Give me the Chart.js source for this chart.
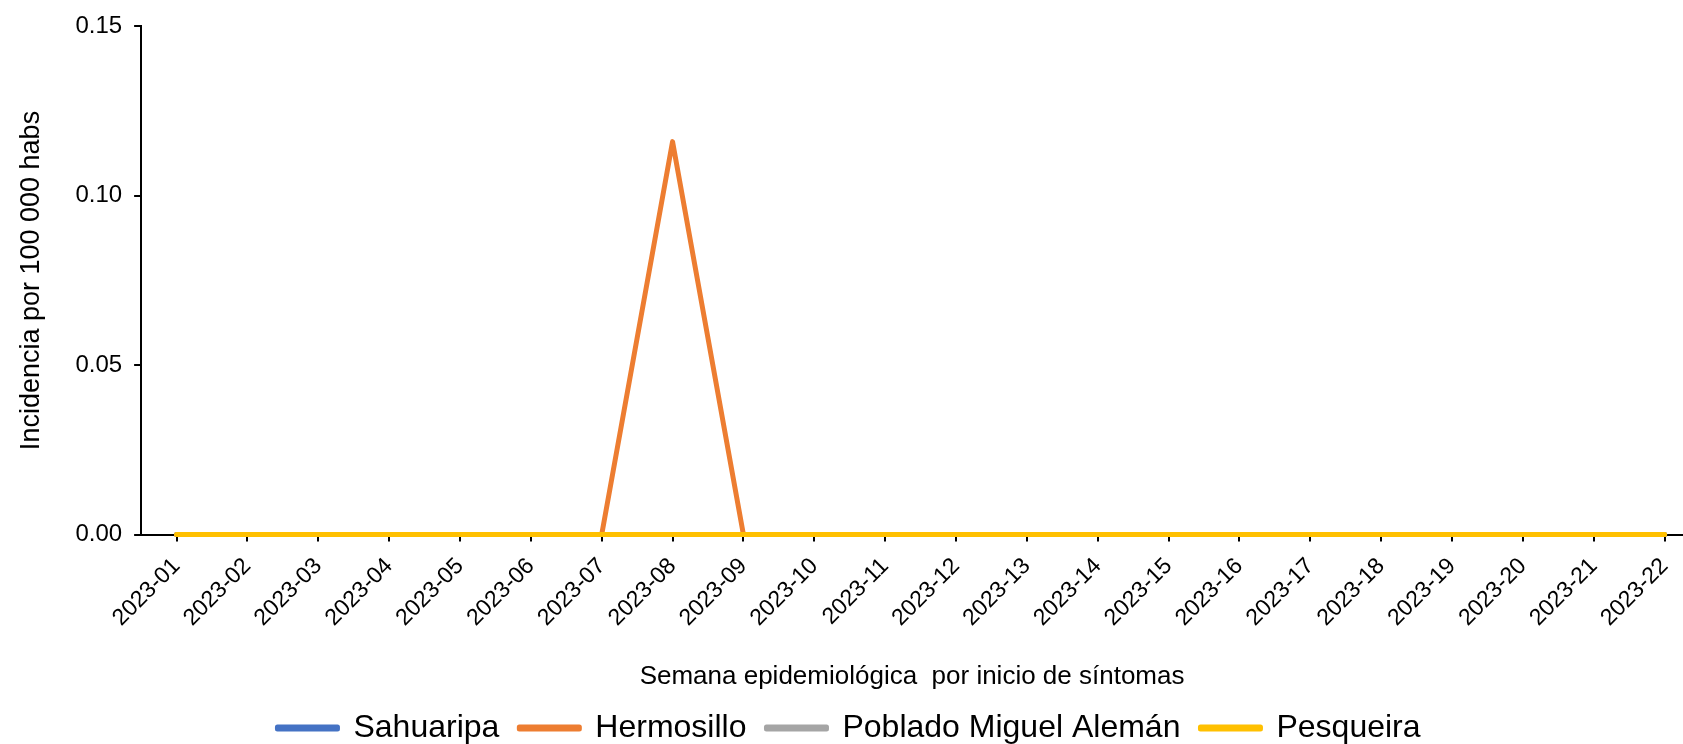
<!DOCTYPE html>
<html>
<head>
<meta charset="utf-8">
<script src="https://cdn.jsdelivr.net/npm/chart.js@4/dist/chart.umd.min.js"></script>
<style>
  body { margin: 0; background: #fff; }
  #wrap { width: 1683px; height: 744px; }
</style>
</head>
<body>
<div id="wrap"><canvas id="incChart"></canvas></div>
<script>
// semanas epidemiologicas
const weeks = ['2023-01','2023-02','2023-03','2023-04','2023-05','2023-06','2023-07','2023-08',
  '2023-09','2023-10','2023-11','2023-12','2023-13','2023-14','2023-15','2023-16','2023-17',
  '2023-18','2023-19','2023-20','2023-21','2023-22'];

const sahuaripa  = [0,0,0,0,0,0,0,0,0,0,0,0,0,0,0,0,0,0,0,0,0,0];
const hermosillo = [0,0,0,0,0,0,0,0.116,0,0,0,0,0,0,0,0,0,0,0,0,0,0];
const poblado    = [0,0,0,0,0,0,0,0,0,0,0,0,0,0,0,0,0,0,0,0,0,0];
const pesqueira  = [0,0,0,0,0,0,0,0,0,0,0,0,0,0,0,0,0,0,0,0,0,0];

const yTicks = [0, 0.05, 0.10, 0.15];

const FONT = "'Liberation Sans', Arial, sans-serif";

// week n -> x = n
const toPoints = arr => arr.map((v, i) => ({ x: i + 1, y: v }));

const mkSet = (label, arr, color, order) => ({
  label,
  data: toPoints(arr),
  borderColor: color,
  backgroundColor: color,
  borderWidth: 5,
  borderJoinStyle: 'round',
  borderCapStyle: 'round',
  pointRadius: 0,
  tension: 0,
  clip: false,
  order
});

const data = {
  datasets: [
    mkSet('Sahuaripa', sahuaripa, '#4472C4', 4),
    mkSet('Hermosillo', hermosillo, '#ED7D31', 3),
    mkSet('Poblado Miguel Alemán', poblado, '#A5A5A5', 2),
    mkSet('Pesqueira', pesqueira, '#FFC000', 1)
  ]
};

const config = {
  type: 'line',
  data,
  options: {
    responsive: true,
    maintainAspectRatio: false,
    animation: false,
    layout: { padding: { top: 17, right: 0, left: 15, bottom: -10 } },
    plugins: {
      tooltip: { enabled: false },
      legend: {
        position: 'bottom',
        labels: {
          sort: (a, b) => a.datasetIndex - b.datasetIndex,
          boxWidth: 60,
          boxHeight: 2,
          padding: 20,
          color: '#000',
          font: { family: FONT, size: 32 }
        }
      }
    },
    scales: {
      x: {
        type: 'linear',
        min: 0.5,
        max: 22.26,
        afterBuildTicks: scale => {
          scale.ticks = weeks.map((w, i) => ({ value: i + 1 }));
        },
        afterFit: scale => {
          // let the axis run to the right edge
          scale.paddingRight = 0;
        },
        grid: {
          display: true,
          drawOnChartArea: false,
          drawTicks: true,
          tickLength: 7,
          color: '#000',
          lineWidth: 2
        },
        border: { display: true, color: '#000', width: 2 },
        ticks: {
          autoSkip: false,
          maxRotation: 45,
          minRotation: 45,
          color: '#000',
          padding: 11,
          font: { family: FONT, size: 23 },
          callback: v => weeks[v - 1]
        },
        title: {
          display: true,
          text: 'Semana epidemiológica  por inicio de síntomas',
          color: '#000',
          font: { family: FONT, size: 26 },
          padding: { top: 18, bottom: 0 }
        }
      },
      y: {
        min: 0,
        max: 0.15,
        afterBuildTicks: scale => {
          scale.ticks = yTicks.map(v => ({ value: v }));
        },
        grid: {
          display: true,
          drawOnChartArea: false,
          tickLength: 7,
          color: '#000',
          lineWidth: 2
        },
        border: { display: true, color: '#000', width: 2 },
        ticks: {
          color: '#000',
          padding: 12,
          font: { family: FONT, size: 24 },
          callback: v => v.toFixed(2)
        },
        title: {
          display: true,
          text: 'Incidencia por 100 000 habs',
          color: '#000',
          font: { family: FONT, size: 27 },
          padding: { top: 0, bottom: 16 }
        }
      }
    }
  }
};

const incChart = new Chart(document.getElementById('incChart'), config);
</script>
</body>
</html>
